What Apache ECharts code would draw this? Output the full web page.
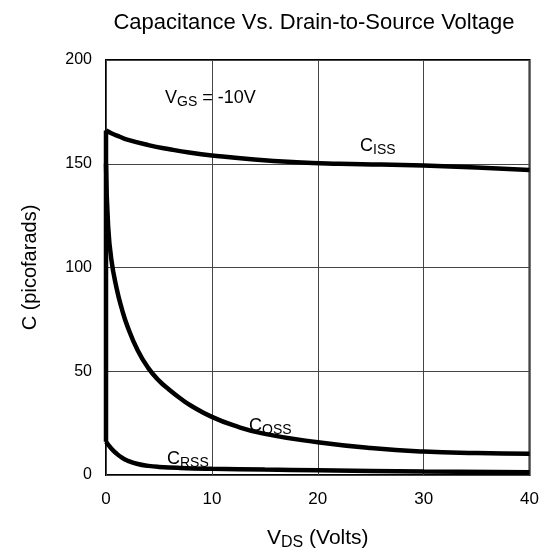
<!DOCTYPE html>
<html><head><meta charset="utf-8">
<script src="https://cdn.jsdelivr.net/npm/echarts@6/dist/echarts.min.js"></script>
<style>html,body{margin:0;padding:0;background:#fff}#c{width:542px;height:556px}</style>
</head><body><div id="c"></div>
<script>
var xTicks = [0, 10, 20, 30, 40];
var yTicks = [0, 50, 100, 150, 200];
var cissV = [0, 0.5, 1.3, 2, 4, 6, 8, 10, 14, 18, 22, 26, 30, 35, 40];
var cissC = [166, 164.7, 163, 161.6, 159, 157, 155.3, 154, 152, 150.7, 150, 149.6, 149.1, 148.2, 147];
var cossV = [0, 0.2, 0.5, 1, 1.5, 2, 3, 4, 5, 6, 7, 8, 10, 12, 15, 20, 25, 30, 35, 40];
var cossC = [150, 120, 104, 90, 80, 72, 60, 51.5, 45.5, 41, 37, 33.5, 28, 24, 19.8, 15.8, 13, 11.3, 10.6, 10.3];
var crssV = [0, 0.5, 1, 1.5, 2, 3, 4, 5, 7, 10, 15, 20, 30, 40];
var crssC = [16, 12.8, 10.3, 8.4, 7, 5.3, 4.4, 3.9, 3.4, 3, 2.6, 2.3, 1.7, 1.3];
var edgeV = [0, 0];
var edgeC = [16, 166];

function pairs(a, b) { return a.map(function (v, i) { return [v, b[i]]; }); }

var chart = echarts.init(document.getElementById('c'), null, {renderer: 'canvas'});
var FONT = 'Liberation Sans';
var lineStyle = {color: '#000', width: 4.5};
function curve(name, v, c) {
  return {type: 'line', name: name, data: pairs(v, c), symbol: 'none', smooth: 0.5, lineStyle: lineStyle};
}
chart.setOption({
  animation: false,
  backgroundColor: '#fff',
  title: {
    text: 'Capacitance Vs. Drain-to-Source Voltage',
    left: 309, top: 7, textAlign: 'center',
    textStyle: {fontFamily: FONT, fontSize: 22, fontWeight: 'normal', color: '#000'}
  },
  grid: {left: 106, right: 10, top: 60, bottom: 71, show: true, borderColor: '#000', borderWidth: 2, backgroundColor: 'transparent'},
  xAxis: {
    type: 'value', min: 0, max: 40, interval: 10,
    axisLine: {show: false}, axisTick: {show: false},
    splitLine: {lineStyle: {color: '#444', width: 1}},
    axisLabel: {fontFamily: FONT, fontSize: 17, color: '#000', margin: 16,
      formatter: function (v) { return v === 40 ? '{hi|40}' : String(v); },
      rich: {hi: {fontFamily: FONT, fontSize: 17, color: '#000', padding: [0, 0, 8, 0]}}},
    name: '{v|V}{s|DS}{v| (Volts)}', nameLocation: 'middle', nameGap: 50,
    nameTextStyle: {fontFamily: FONT, color: '#000', rich: {
      v: {fontFamily: FONT, fontSize: 21, color: '#000'},
      s: {fontFamily: FONT, fontSize: 16, color: '#000', padding: [10, 0, 0, 0]}
    }}
  },
  yAxis: {
    type: 'value', min: 0, max: 200, interval: 50,
    axisLine: {show: false}, axisTick: {show: false},
    splitLine: {lineStyle: {color: '#444', width: 1}},
    axisLabel: {fontFamily: FONT, fontSize: 16, color: '#000', margin: 14},
    name: 'C (picofarads)', nameLocation: 'middle', nameGap: 66, nameRotate: 90,
    nameTextStyle: {fontFamily: FONT, fontSize: 20, color: '#000'}
  },
  series: [
    curve('CISS', cissV, cissC),
    curve('COSS', cossV, cossC),
    curve('CRSS', crssV, crssC),
    {type: 'line', name: 'edge', data: pairs(edgeV, edgeC), symbol: 'none', lineStyle: lineStyle}
  ],
  graphic: [
    {type: 'text', left: 165, top: 89, style: {text: '{v|V}{s|GS}{v| = -10V}', rich: {
      v: {fontFamily: FONT, fontSize: 18, fill: '#000'},
      s: {fontFamily: FONT, fontSize: 14, fill: '#000', padding: [8, 0, 0, 0]}}}},
    {type: 'text', left: 360, top: 137, style: {text: '{v|C}{s|ISS}', rich: {
      v: {fontFamily: FONT, fontSize: 18, fill: '#000'},
      s: {fontFamily: FONT, fontSize: 14, fill: '#000', padding: [8, 0, 0, 0]}}}},
    {type: 'text', left: 249, top: 417, style: {text: '{v|C}{s|OSS}', rich: {
      v: {fontFamily: FONT, fontSize: 18, fill: '#000'},
      s: {fontFamily: FONT, fontSize: 14, fill: '#000', padding: [8, 0, 0, 0]}}}},
    {type: 'text', left: 167, top: 450, style: {text: '{v|C}{s|RSS}', rich: {
      v: {fontFamily: FONT, fontSize: 18, fill: '#000'},
      s: {fontFamily: FONT, fontSize: 14, fill: '#000', padding: [8, 0, 0, 0]}}}}
  ]
});
</script></body></html>
